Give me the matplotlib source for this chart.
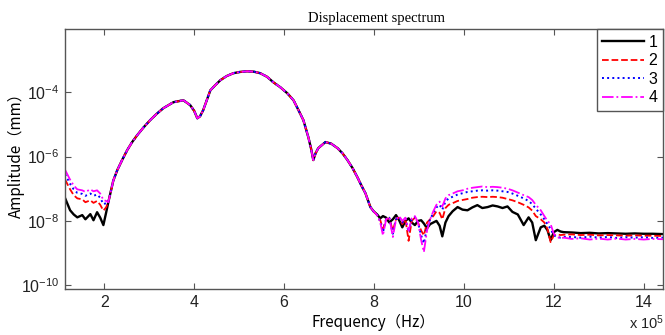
import numpy as np
import matplotlib
matplotlib.use('Agg')
import matplotlib.pyplot as plt
from matplotlib.ticker import FixedLocator, LogFormatterMathtext, NullLocator

plt.rcParams['font.family'] = ['Liberation Sans', 'DejaVu Sans']
plt.rcParams['mathtext.default'] = 'regular'

# ---------------- data (frequency in 1e5 Hz, amplitude as log10 of mm) ----------------
labels = ['1', '2', '3', '4']

# low-frequency part, where the four curves differ
f_low = [1.13, 1.24, 1.32, 1.40, 1.51, 1.58, 1.69, 1.76, 1.84, 1.91, 1.98, 2.04]
low_1 = [-7.30, -7.67, -7.80, -7.89, -7.82, -7.95, -7.79, -7.98, -7.73, -7.90, -8.13, -7.75]
low_2 = [-6.72, -7.02, -7.20, -7.30, -7.33, -7.42, -7.36, -7.44, -7.38, -7.50, -7.68, -7.58]
low_3 = [-6.55, -6.85, -7.02, -7.13, -7.16, -7.22, -7.15, -7.22, -7.18, -7.28, -7.48, -7.45]
low_4 = [-6.42, -6.72, -6.90, -7.02, -7.05, -7.10, -7.02, -7.08, -7.05, -7.15, -7.35, -7.38]

# middle part, identical for all four curves
f_mid = [2.09, 2.20, 2.29, 2.40, 2.51, 2.62, 2.73, 2.87, 3.02, 3.16, 3.31, 3.54, 3.76,
         3.91, 4.00, 4.07, 4.13, 4.20, 4.28, 4.36, 4.47, 4.58, 4.72, 4.87, 5.02, 5.18,
         5.32, 5.47, 5.62, 5.76, 5.92, 6.07, 6.21, 6.30, 6.43, 6.54, 6.60, 6.65, 6.70,
         6.76, 6.92, 7.05, 7.19, 7.30, 7.41, 7.52, 7.63, 7.72, 7.81, 7.92, 7.99]
mid = [-7.42, -6.75, -6.42, -6.10, -5.80, -5.55, -5.34, -5.10, -4.87, -4.68, -4.50, -4.31, -4.25,
       -4.40, -4.58, -4.81, -4.75, -4.56, -4.25, -3.94, -3.78, -3.63, -3.50, -3.41, -3.37, -3.35,
       -3.36, -3.41, -3.52, -3.69, -3.85, -4.03, -4.25, -4.50, -4.87, -5.40, -5.75, -6.11, -5.90,
       -5.74, -5.55, -5.60, -5.74, -5.90, -6.11, -6.35, -6.64, -6.90, -7.14, -7.57, -7.70]

# high-frequency part, curves differ again
f_high = [8.07, 8.14, 8.20, 8.27, 8.34, 8.42, 8.49, 8.56, 8.63, 8.70, 8.77, 8.84, 8.91, 8.98,
          9.05, 9.11, 9.18, 9.25, 9.32, 9.39, 9.46, 9.52, 9.59, 9.66,
          9.75, 9.86, 9.97, 10.08, 10.19, 10.30, 10.41, 10.53, 10.64, 10.75, 10.86, 10.97,
          11.08, 11.20, 11.33, 11.44, 11.52, 11.60, 11.71, 11.79, 11.86, 11.93, 12.00, 12.08,
          12.15, 12.22,
          12.40, 12.60, 12.80, 13.00, 13.20, 13.40, 13.60, 13.80, 14.00, 14.20, 14.43]
high_1 = [-7.80, -7.92, -7.85, -7.90, -8.05, -7.95, -7.82, -7.98, -8.20, -8.00, -7.92, -8.05, -8.13, -8.00,
          -7.98, -8.08, -8.23, -8.10, -8.05, -8.00, -8.15, -8.48, -8.05, -7.85,
          -7.70, -7.57, -7.65, -7.67, -7.58, -7.51, -7.60, -7.57, -7.52, -7.55, -7.60, -7.55,
          -7.72, -7.80, -8.13, -7.89, -8.05, -8.60, -8.20, -8.15, -8.29, -8.60, -8.35, -8.28,
          -8.33, -8.35,
          -8.36, -8.38, -8.37, -8.39, -8.38, -8.39, -8.40, -8.39, -8.40, -8.40, -8.41]
high_2 = [-7.82, -7.98, -8.25, -7.95, -7.92, -8.30, -7.95, -7.90, -8.10, -7.95, -8.62, -8.00, -7.90, -8.05,
          -8.30, -8.45, -8.05, -7.95, -7.85, -7.70, -7.75, -7.95, -7.60, -7.50,
          -7.45, -7.38, -7.35, -7.32, -7.28, -7.26, -7.25, -7.26, -7.25, -7.26, -7.28, -7.32,
          -7.36, -7.42, -7.50, -7.58, -7.68, -7.85, -7.95, -8.05, -8.25, -8.66, -8.45, -8.42,
          -8.44, -8.43,
          -8.42, -8.44, -8.43, -8.45, -8.44, -8.45, -8.46, -8.45, -8.46, -8.46, -8.47]
high_3 = [-7.81, -8.02, -8.35, -7.95, -7.90, -8.40, -7.95, -7.88, -8.05, -7.92, -8.35, -7.95, -7.88, -8.05,
          -8.45, -8.70, -8.20, -7.95, -7.75, -7.58, -7.50, -7.65, -7.40, -7.30,
          -7.25, -7.18, -7.14, -7.10, -7.08, -7.06, -7.05, -7.06, -7.05, -7.06, -7.08, -7.10,
          -7.15, -7.22, -7.30, -7.38, -7.48, -7.62, -7.80, -7.95, -8.10, -8.25, -8.45, -8.50,
          -8.52, -8.50,
          -8.50, -8.52, -8.49, -8.52, -8.50, -8.53, -8.51, -8.52, -8.51, -8.53, -8.52]
high_4 = [-7.82, -8.05, -8.45, -7.95, -7.88, -8.50, -7.95, -7.85, -8.00, -7.90, -8.30, -7.92, -7.85, -8.05,
          -8.60, -8.97, -8.30, -7.95, -7.70, -7.50, -7.40, -7.55, -7.30, -7.20,
          -7.15, -7.08, -7.05, -7.00, -6.97, -6.95, -6.93, -6.95, -6.94, -6.95, -6.97, -7.00,
          -7.05, -7.12, -7.20, -7.26, -7.35, -7.50, -7.67, -7.85, -8.00, -8.10, -8.40, -8.50,
          -8.55, -8.52,
          -8.56, -8.54, -8.58, -8.55, -8.58, -8.55, -8.58, -8.56, -8.58, -8.56, -8.57]

lows = [low_1, low_2, low_3, low_4]
highs = [high_1, high_2, high_3, high_4]
colors = ['black', '#ff0000', '#0000ff', '#ff00ff']
styles = ['-', '--', ':', '-.']
widths = [1.7, 1.3, 1.4, 1.3]

# ---------------- plot ----------------
fig = plt.figure(figsize=(6.65, 3.35), dpi=100)
ax = fig.add_axes([0.098, 0.137, 0.899, 0.776])

freq = np.concatenate([f_low, f_mid, f_high])
for i in range(4):
    logamp = np.concatenate([lows[i], mid, highs[i]])
    ax.plot(freq, 10.0 ** logamp, color=colors[i], ls=styles[i], lw=widths[i], label=labels[i])

ax.set_yscale('log')
ax.set_xlim(1.13, 14.43)
ax.set_ylim(10 ** -10.12, 10 ** -2.04)
ax.set_xticks([2, 4, 6, 8, 10, 12, 14])
ax.yaxis.set_major_locator(FixedLocator([1e-10, 1e-8, 1e-6, 1e-4]))
ax.yaxis.set_major_formatter(LogFormatterMathtext())
ax.yaxis.set_minor_locator(NullLocator())
ax.tick_params(direction='in', top=True, right=True, length=4, width=0.8,
               colors='#555555', labelcolor='#222222', labelsize=11.5, pad=4)
for sp in ax.spines.values():
    sp.set_color('#555555')
    sp.set_linewidth(1.0)

ax.set_title('Displacement spectrum', family='Liberation Serif', fontsize=10.5, pad=5, x=0.52)
ax.set_xlabel('Frequency（Hz）', family=['Noto Sans CJK SC', 'DejaVu Sans'], fontsize=11)
ax.set_ylabel('Amplitude（mm）', family=['Noto Sans CJK SC', 'DejaVu Sans'], fontsize=11)
ax.xaxis.set_label_coords(0.515, -0.097)
ax.yaxis.set_label_coords(-0.068, 0.53)
fig.text(0.998, 0.01, r'x 10$^5$', ha='right', va='bottom', fontsize=10.5, color='#222222')

leg = ax.legend(loc='upper right', borderaxespad=0, fancybox=False, framealpha=1,
                edgecolor='#555555', fontsize=11.5, handlelength=2.6, handletextpad=0.3,
                labelspacing=0.22, borderpad=0.35)
leg.get_frame().set_linewidth(1.0)

fig.savefig('out.png', dpi=100)
